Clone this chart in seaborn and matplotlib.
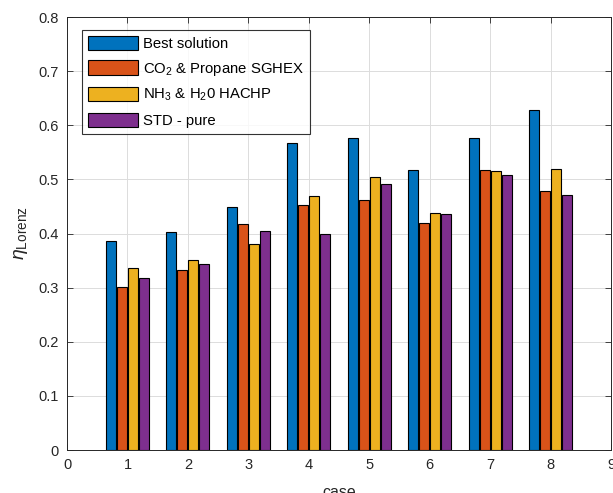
import numpy as np
import pandas as pd
import matplotlib
matplotlib.use("Agg")
import matplotlib.pyplot as plt
import seaborn as sns

cases = [1, 2, 3, 4, 5, 6, 7, 8]
best = [0.386, 0.403, 0.449, 0.568, 0.577, 0.517, 0.576, 0.628]
co2_propane = [0.301, 0.333, 0.417, 0.452, 0.461, 0.420, 0.517, 0.479]
nh3_h2o = [0.336, 0.351, 0.381, 0.469, 0.505, 0.438, 0.516, 0.519]
std_pure = [0.318, 0.344, 0.404, 0.400, 0.491, 0.436, 0.508, 0.471]
series_names = ["Best solution", "CO$_2$ & Propane SGHEX",
                "NH$_3$ & H$_2$0 HACHP", "STD - pure"]
colors = ["#0072BD", "#D95319", "#EDB120", "#7E2F8E"]
xticks = [0, 1, 2, 3, 4, 5, 6, 7, 8, 9]
yticks = [0, 0.1, 0.2, 0.3, 0.4, 0.5, 0.6, 0.7, 0.8]
ytick_labels = ["0", "0.1", "0.2", "0.3", "0.4", "0.5", "0.6", "0.7", "0.8"]

rows = []
for name, vals in zip(series_names, [best, co2_propane, nh3_h2o, std_pure]):
    for c, v in zip(cases, vals):
        rows.append({"case": c, "eta": v, "series": name})
df = pd.DataFrame(rows)

sns.set_theme(style="white")
plt.rcParams["font.family"] = ["Liberation Sans", "DejaVu Sans"]
plt.rcParams["mathtext.fontset"] = "custom"
plt.rcParams["mathtext.rm"] = "Liberation Sans"
plt.rcParams["mathtext.it"] = "Liberation Sans:italic"
plt.rcParams["mathtext.default"] = "regular"

fig = plt.figure(figsize=(6.13, 4.93), dpi=100)
ax = fig.add_axes([67 / 613, 1 - 450 / 493, 544 / 613, 433 / 493])

sns.barplot(data=df, x="case", y="eta", hue="series", hue_order=series_names,
            palette=colors, native_scale=True, width=0.728, gap=0.09,
            edgecolor="black", linewidth=0.8, ax=ax, saturation=1, errorbar=None,
            zorder=3)

ax.set_xlim(0, 9)
ax.set_ylim(0, 0.8)
ax.set_xticks(xticks)
ax.set_xticklabels([str(t) for t in xticks])
ax.set_yticks(yticks)
ax.set_yticklabels(ytick_labels)
ax.grid(True, color="#dcdcdc", linewidth=0.7, zorder=0)
ax.set_axisbelow(True)
for s in ax.spines.values():
    s.set_color("#262626")
    s.set_linewidth(0.7)
    s.set_visible(True)
ax.tick_params(axis="both", which="both", direction="in", length=4, width=0.6,
               colors="#262626", labelsize=10.5, top=True, right=True,
               bottom=True, left=True, labelcolor="#262626", pad=6)
ax.set_xlabel("case", fontsize=11.5, color="#262626", labelpad=9)
ax.set_ylabel(r"$\mathit{\eta}_{Lorenz}$", fontsize=14, color="#262626", labelpad=6)

leg = ax.legend(loc="upper left", bbox_to_anchor=(0.027, 0.97), fontsize=10.7,
                frameon=True, fancybox=False, edgecolor="black",
                handlelength=3.4, handleheight=1.1, handletextpad=0.3,
                labelspacing=0.62, borderpad=0.4, borderaxespad=0)
leg.get_frame().set_linewidth(0.8)
for t in leg.get_texts():
    t.set_color("black")

fig.savefig("out.png", dpi=100)
